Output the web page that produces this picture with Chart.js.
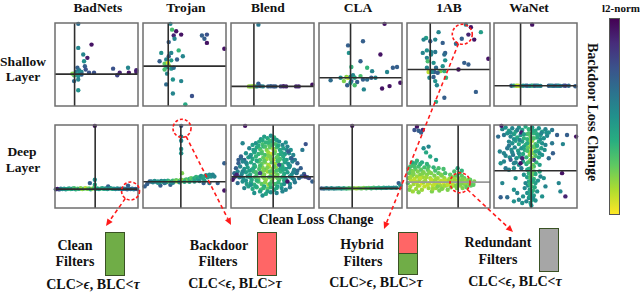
<!DOCTYPE html>
<html><head><meta charset="utf-8">
<script src="https://cdn.jsdelivr.net/npm/chart.js@4"></script>
<style>
body{margin:0;background:#fff}
#wrap{position:relative;width:640px;height:292px;overflow:hidden;font-family:"Liberation Serif","Times New Roman","DejaVu Serif",serif;font-weight:bold;color:#111}
.t{position:absolute;transform:translate(-50%,-50%);white-space:nowrap;line-height:1}
.s13{font-size:13.5px}.s14{font-size:14px}
canvas.p{position:absolute}
.box{position:absolute;box-sizing:border-box;border:1.5px solid #3a5224}
#cbar{position:absolute;left:609px;top:18px;width:11px;height:197px;box-sizing:border-box;border:1px solid #555;
background:linear-gradient(to bottom,#440154 0%,#472d7b 12.5%,#3b528b 25%,#2c728e 37.5%,#21918c 50%,#28ae80 62.5%,#5ec962 75%,#addc30 87.5%,#fde725 100%)}
#ov{position:absolute;left:0;top:0;pointer-events:none}
</style></head>
<body><div id="wrap">
<div class="t s13" style="left:98px;top:8px">BadNets</div>
<div class="t s13" style="left:186px;top:8px">Trojan</div>
<div class="t s13" style="left:268px;top:8px">Blend</div>
<div class="t s13" style="left:358px;top:8px">CLA</div>
<div class="t s13" style="left:449px;top:8px">1AB</div>
<div class="t s13" style="left:529px;top:8px">WaNet</div>
<div class="t" style="left:621px;top:8px;font-size:11px">l2-norm</div>
<div class="t s13" style="left:23px;top:62px">Shallow</div>
<div class="t s13" style="left:23px;top:77px">Layer</div>
<div class="t s13" style="left:22px;top:152px">Deep</div>
<div class="t s13" style="left:23px;top:168px">Layer</div>
<div class="t s14" style="left:316px;top:220px">Clean Loss Change</div>
<div class="t s14" style="left:592px;top:112px;transform:translate(-50%,-50%) rotate(90deg)">Backdoor Loss Change</div>
<div id="cbar"></div>

<div class="t s14" style="left:75px;top:246px">Clean</div>
<div class="t s14" style="left:75px;top:262px">Filters</div>
<div class="t s14" style="left:93px;top:285px">CLC&gt;<i>ϵ</i>, BLC&lt;<i>τ</i></div>
<div class="box" id="bClean" style="left:105px;top:232px;width:20px;height:44px;background:#70ad47"></div>

<div class="t s14" style="left:219px;top:246px">Backdoor</div>
<div class="t s14" style="left:218px;top:262px">Filters</div>
<div class="t s14" style="left:235px;top:284px">CLC&lt;<i>ϵ</i>, BLC&gt;<i>τ</i></div>
<div class="box" id="bBackdoor" style="left:257px;top:232px;width:20px;height:44px;background:#ff6666"></div>

<div class="t s14" style="left:362px;top:245px">Hybrid</div>
<div class="t s14" style="left:363px;top:262px">Filters</div>
<div class="t s14" style="left:376px;top:283px">CLC&gt;<i>ϵ</i>, BLC&gt;<i>τ</i></div>
<div class="box" id="bHybrid" style="left:398px;top:232px;width:20px;height:43px;background:#70ad47">
  <div style="position:absolute;left:0;top:0;right:0;height:20px;background:#ff6666;border-bottom:1.5px solid #3a5224"></div>
</div>

<div class="t s14" style="left:498px;top:243px">Redundant</div>
<div class="t s14" style="left:498px;top:260px">Filters</div>
<div class="t s14" style="left:515px;top:282px">CLC&lt;<i>ϵ</i>, BLC&lt;<i>τ</i></div>
<div class="box" id="bRedundant" style="left:539px;top:228px;width:20px;height:44px;background:#a6a6a6"></div>

<canvas id="ov" width="640" height="292"></canvas>
</div>
<script>
// ---- data: [clean loss change, backdoor loss change, l2-norm (0..1)] per filter ----
const methods = ['BadNets','Trojan','Blend','CLA','1AB','WaNet'];
const layers = ['Shallow','Deep'];

const badnetsShallow = [[28,99,.35],[28,70,.45],[44,74,.05],[34,62,.45],[39,58,.08],[35,54,.5],[36,48,.3],[27,46,.3],[37,44,.25],[29,43,.4],[32,41,.45],[25,41,.4],[41,40,.25],[47,40,.25],[26,38,.55],[23,37,.7],[21,39,.8],[30,40,.5],[32,38,.3],[28,36,.5],[23,30,.35],[28,32,.45],[28,19,.5],[70,45,.25],[78,40,.1],[75,37,.2],[88,46,.45],[89,40,.05],[98,43,.1],[98,41,.08]];
const trojanShallow = [[33,99,.45],[35,92,.7],[40,90,.05],[37,85,.1],[46,86,.05],[38,81,.45],[31,77,.3],[71,85,.3],[77,86,.25],[74,81,.3],[77,76,.05],[98,69,.05],[22,64,.5],[43,67,.65],[34,64,.45],[48,60,.45],[31,60,.3],[20,54,.3],[28,56,.45],[34,55,.55],[41,56,.3],[26,51,.75],[30,52,.95],[31,49,.85],[28,47,.5],[26,44,.7],[34,45,.5],[37,46,.35],[29,39,.45],[36,32,.5],[46,30,.45],[28,26,.35],[36,15,.45],[59,12,.25],[51,2,.6]];
const blendShallow = [[33,98,.4],[33,27,.3],[21.6,23.6,.85],[24,23.6,.8],[26.4,23.8,.85],[28.8,23.6,.92],[31.2,23.6,.45],[35.2,24,.3],[38.4,23.6,.45],[44.8,23.6,.3],[48,23.8,.3],[51.2,23.6,.25],[53.6,23.6,.3],[60,23.6,.2],[63.2,23.8,.1],[66.4,23.6,.1],[78.4,23.6,.1],[81.6,23.6,.1],[98,25.6,.05]];
const claShallow = [[79,99,.05],[35,73,.3],[53,78,.3],[36,64,.5],[74,62,.05],[50,54,.3],[39,47,.65],[58,46,.65],[64,42,.45],[82,41,.45],[89,46,.3],[94,47,.3],[98,28,.05],[14,31,.35],[26,34,.5],[33,35,.8],[35,34,.9],[38,35,.5],[41,37,.45],[43,34,.6],[50,36,.7],[53,32,.3],[58,32,.35],[63,34,.3],[68,34,.45],[39,30,.3],[46,29,.3],[34,25,.3],[43,25,.7],[38,28,.5],[54,20,.45],[76,21,.05],[85,24,.05],[30,30,.8]];
const abShallow = [[71,98,.45],[77,95,.05],[89,89,.55],[38,89,.45],[74,86,.1],[66,81,.3],[81,80,.05],[59,75,.35],[23,82,.55],[20,80,.45],[28,78,.3],[34,80,.45],[43,76,.3],[24,67,.5],[19,64,.45],[29,65,.45],[34,65,.4],[46,64,.3],[45,62,.35],[29,62,.45],[24,58,.45],[46,55,.5],[25,54,.7],[32,52,.5],[69,52,.3],[74,50,.3],[98,57,.05],[24,46,.45],[35,46,.35],[43,48,.5],[40,42,.8],[45,42,.65],[33,41,.3],[62,44,.05],[26,41,.9],[30,41,.45],[37,40,.3],[27,34,.45],[32,35,.3],[47,34,.65],[34,30,.5],[36,25,.45],[83,17,.3],[45,10,.3],[35,5,.6]];
const wanetShallow = [[46,98,.05],[21,24.4,.3],[24,24.6,.6],[27,24.4,.85],[29,24.4,.92],[32,24.2,.85],[35,24.4,.5],[38,24.6,.4],[40,24.4,.3],[43,24.2,.5],[45,24.6,.45],[47,24.4,.65],[49,24.4,.3],[51,24.6,.35],[53,24.4,.45],[56,24.2,.45],[66,24.4,.3],[68,24.6,.35],[70,24.4,.45],[72,24.2,.4],[74,24.6,.3],[76,24.4,.35],[78,24.4,.5],[80,24.2,.4],[84,24.6,.3],[86,24.4,.2],[90,24.4,.35],[98,23.8,.3]];

const badnetsDeep = [[48,99,.05],[48,34,.5],[42,30,.3],[48,28,.6],[88,27,.3],[64,26,.3],
[1,22.6,.3],[3,23,.05],[5,22.4,.2],[7,23.2,.4],[9,22.8,.45],[11,23.4,.55],[13,22.6,.5],[15,23,.6],[17,23.6,.55],[19,22.8,.65],[21,23.2,.5],[23,23.8,.7],[25,22.6,.6],[27,23.4,.75],[29,23,.55],[31,23.8,.8],[33,22.8,.85],[35,23.4,.7],[37,24,.9],[39,23,.8],[41,23.6,.75],[43,22.6,.6],[45,23.4,.85],[47,24,.7],[49,23,.55],[51,23.6,.6],[53,22.8,.5],[55,23.4,.65],[57,24,.55],[59,23,.6],[61,23.6,.5],[63,22.8,.55],[65,23.4,.45],[67,24,.5],[69,23,.6],[71,23.4,.5],[73,22.8,.45],[75,23.6,.5],[77,23,.4],[79,23.4,.45],[81,22.8,.4],[83,23.2,.35],[85,23,.45],[87,22.6,.3],[89,23.2,.35],[91,22.8,.4],[93,23.2,.3],[95,22.6,.45],[97,23,.3],[99,22.8,.25]];
const trojanDeep = [[46,99,.25],[46,86,.45],[46,81,.45],[46,71,.5],[46,66,.5],[47,42,.8],
[98,54,.3],[98,21,.05],[2,26,.3],[5,29,.3],[8,32,.3],[21,27,.3],[33,28,.3],[73,30,.3],[80,30,.4],[90,30,.3],
[10,32,.4],[12,31,.45],[14,32.5,.5],[16,31.5,.4],[18,32,.55],[20,31,.5],[22,32.5,.45],[24,31.5,.6],[26,32.5,.5],[28,31,.55],[30,33,.6],[32,32,.7],[34,31,.5],[36,33,.65],[38,32,.8],[40,33.5,.75],[42,32,.85],[44,33,.7],[46,34,.8],[48,32.5,.9],[50,33.5,.75],[52,34.5,.7],[54,33,.8],[56,35,.65],[58,36,.75],[60,34.5,.7],[62,36,.6],[64,37.5,.65],[66,35,.55],[68,37,.6],[70,38.5,.5],[72,36,.55],[74,38,.6],[76,39.5,.5],[78,37,.55],[80,40,.5],[82,38,.5],[84,40,.45],[86,38,.45],[56,31.5,.6],[62,32,.55],[68,32.5,.5],[74,33,.55],[44,31,.5],[50,31.5,.6],[36,30.5,.45],[26,30,.4],[18,30.5,.5]];
const blendDeep = [[40,86,.55],[44,84,.6],[48,87,.5],[52,85,.65],[36,83,.5],[47,81,.7],[55,82,.55],
[30,78,.5],[34,80,.6],[38,77,.7],[42,79,.65],[46,76,.75],[50,79,.6],[54,77,.7],[58,80,.5],[62,76,.45],[26,76,.55],[66,79,.5],
[22,72,.45],[27,70,.55],[31,73,.6],[35,71,.7],[39,74,.65],[43,70,.8],[47,73,.75],[51,71,.9],[55,73,.7],[59,70,.6],[63,72,.55],[68,74,.45],[72,70,.5],
[18,66,.5],[24,64,.55],[28,67,.6],[33,65,.65],[37,68,.75],[41,64,.7],[45,67,.85],[49,65,.95],[53,68,.8],[57,64,.7],[61,67,.6],[65,65,.55],[70,66,.5],[75,64,.45],
[12,60,.45],[16,58,.3],[21,61,.55],[26,59,.6],[30,62,.65],[35,58,.7],[39,61,.75],[43,59,.85],[47,62,.8],[51,58,.9],[55,61,.75],[59,59,.7],[63,62,.6],[67,58,.55],[72,60,.5],[77,58,.4],
[9,54,.3],[14,56,.45],[19,53,.5],[24,55,.6],[28,52,.55],[33,56,.7],[37,53,.75],[41,55,.8],[45,52,.85],[49,55,.75],[53,53,.85],[57,56,.7],[61,52,.65],[65,55,.55],[69,53,.5],[74,56,.45],[80,54,.3],
[6,48,.3],[11,50,.45],[16,47,.5],[20,49,.55],[25,46,.6],[29,50,.65],[34,47,.7],[38,49,.8],[42,46,.75],[46,50,.9],[50,47,.8],[54,49,.85],[58,46,.7],[62,50,.6],[66,47,.55],[70,49,.5],[76,46,.45],[84,48,.3],
[4,42,.35],[8,44,.45],[13,41,.5],[18,43,.55],[23,40,.6],[27,44,.65],[31,41,.7],[36,43,.75],[40,40,.8],[44,44,.85],[48,41,.9],[52,43,.8],[56,40,.75],[60,44,.65],[64,41,.6],[68,43,.55],[73,40,.5],[79,42,.4],[88,41,.3],
[3,36,.3],[10,37,.45],[15,35,.5],[20,38,.55],[25,34,.6],[29,37,.7],[33,35,.75],[38,38,.8],[42,34,.85],[46,37,.75],[50,35,.9],[54,38,.8],[58,34,.7],[62,37,.65],[66,35,.55],[71,38,.5],[76,34,.45],[82,36,.35],[92,37,.3],
[8,30,.35],[14,32,.5],[19,29,.55],[24,31,.6],[28,28,.65],[33,32,.7],[37,29,.75],[41,31,.8],[45,28,.85],[49,32,.75],[53,29,.7],[57,31,.65],[61,28,.6],[66,32,.55],[71,29,.5],[77,31,.4],
[16,24,.45],[21,26,.55],[26,23,.6],[31,25,.65],[36,22,.7],[40,26,.6],[44,23,.75],[48,25,.65],[52,22,.6],[56,26,.55],[61,24,.5],[66,22,.45],[71,25,.4],
[28,18,.5],[35,20,.55],[42,17,.6],[48,19,.5],[55,18,.45],[62,20,.45],[38,15,.5],
[38,82,.6],[45,79,.65],[51,83,.55],[33,75,.6],[41,74,.7],[49,76,.7],[57,75,.6],[29,69,.55],[37,66,.7],[45,63,.8],[52,66,.75],[60,65,.6],[67,70,.5],[23,62,.5],[31,57,.6],[40,57,.75],[48,59,.8],[56,57,.7],[64,58,.6],[18,55,.45],[27,48,.6],[35,51,.7],[44,49,.8],[52,50,.75],[60,48,.6],[71,51,.5],[14,44,.45],[22,45,.55],[30,43,.7],[39,45,.8],[47,44,.75],[55,45,.7],[63,46,.6],[75,43,.45],[12,38,.4],[23,37,.55],[31,33,.65],[40,36,.8],[48,38,.7],[56,36,.75],[64,33,.6],[74,36,.45],[18,33,.5],[30,26,.6],[39,24,.65],[47,29,.7],[55,24,.6],[64,29,.5],[44,20,.55],[24,28,.5],
[17,99,.05],[90,77,.25],[69,68,.3],[2,34,.05],[98,32,.3],[89,38,.1],[68,32,.05],[7,40,.1],[9,58,.3],[14,78,.45],[12,62,.3],[86,70,.4],[80,45,.35],[85,38,.3],[94,36,.2],[5,38,.1],[58,52,.25],[35,42,.2],[73,60,.3]];
const claDeep = [[40,99,.05],[96,30,.3],[98,27,.5],
[3,23.6,.3],[6,23.4,.35],[9,23.8,.45],[12,23.4,.4],[15,23.8,.5],[18,23.4,.45],[21,23.6,.5],[24,23.8,.55],[27,23.4,.5],[30,23.8,.6],[33,23.4,.65],[36,23.8,.7],[39,23.6,.75],[42,24,.8],[45,23.6,.85],[48,24,.8],[51,23.6,.75],[54,24.2,.8],[57,23.8,.7],[60,24.2,.75],[63,23.8,.65],[66,24.4,.7],[69,24,.6],[72,24.4,.65],[75,24,.55],[78,24.4,.6],[81,24.2,.5],[84,24.6,.55],[87,24.2,.5],[90,24.6,.45],[93,24.4,.5]];
const abDeep = [[12,98,.05],[9,94,.25],[14,93,.3],[19,94,.1],[17,91,.3],[26,74,.45],[23,67,.6],[20,72,.5],[28,62,.6],[35,58,.55],
[1,30,.7],[2,36,.8],[3,42,.75],[2,48,.7],[4,26,.85],[5,33,.9],[6,39,.8],[5,45,.75],[7,51,.7],[8,29,.85],[9,35,.9],[8,41,.8],[10,47,.75],[10,54,.65],[11,23,.85],[12,31,.9],[12,38,.85],[13,44,.8],[14,50,.7],[15,27,.9],[15,34,.85],[16,40,.8],[17,46,.75],[18,22,.85],[18,30,.95],[19,37,.85],[20,43,.8],[21,49,.7],[21,26,.9],[22,33,.85],[3,22,.8],[7,20,.85],[14,19,.8],[6,55,.6],[12,57,.65],[18,55,.6],
[24,40,.8],[25,46,.75],[26,24,.85],[27,30,.9],[28,36,.85],[29,42,.8],[30,20,.8],[31,27,.9],[32,33,.85],[33,39,.8],[34,45,.7],[35,24,.85],[36,30,.9],[37,36,.85],[38,42,.75],[39,21,.8],[40,27,.85],[41,33,.9],[42,39,.8],[43,24,.85],[44,30,.95],[45,36,.85],[46,42,.7],[47,27,.8],[48,33,.85],[49,22,.8],[26,50,.7],[32,49,.65],[38,48,.7],[44,47,.7],
[50,29,.9],[51,35,.85],[52,40,.75],[53,25,.8],[54,31,.85],[55,37,.8],[57,27,.85],[58,33,.9],[59,39,.75],[60,24,.8],[61,30,.85],[62,36,.8],[63,42,.7],[64,27,.85],[65,33,.8],[66,39,.75],[67,24,.8],[68,30,.85],[69,36,.75],[70,28,.8],[71,33,.85],[72,25,.75],[73,31,.8],[75,28,.8],[76,34,.75],[78,30,.8],[80,28,.75],[81,32,.8],[61,48,.6],[68,34,.85],[57,44,.7],[66,45,.65],
[4,37,.85],[7,44,.8],[10,32,.9],[13,27,.85],[16,36,.9],[19,42,.8],[20,31,.85],[23,37,.85],[25,28,.9],[27,43,.8],[29,34,.9],[31,23,.85],[33,29,.9],[35,35,.85],[37,26,.8],[39,31,.9],[41,40,.8],[42,23,.8],[45,27,.85],[46,33,.9],[49,28,.9],[52,33,.85],[55,29,.9],[57,35,.85],[59,27,.8],[62,31,.85],[65,29,.8],[67,35,.8],[70,31,.85],[74,34,.8],[77,27,.75],[9,50,.7],[16,53,.65],[4,50,.7],[24,53,.65]];
const wanetDeep = [[10,95,.45],[14,97,.5],[18,93,.55],[22,96,.45],[26,92,.6],[30,97,.5],[34,94,.55],[38,98,.6],[42,95,.65],[46,97,.55],[50,93,.6],[54,96,.5],[58,92,.55],[62,95,.45],[66,91,.5],[70,94,.4],[12,88,.4],[16,90,.5],[20,86,.45],[24,89,.55],[28,85,.6],[32,88,.5],[36,84,.65],[40,89,.7],[44,86,.75],[48,90,.65],[52,85,.6],[56,88,.55],[60,84,.5],[64,87,.45],[9,99,.05],[5,86,.35],[33,91,.1],
[18,80,.45],[22,78,.5],[26,81,.55],[30,77,.6],[34,80,.55],[38,76,.65],[42,79,.8],[46,81,.85],[50,77,.7],[54,80,.6],[58,78,.5],[62,76,.45],[16,72,.4],[21,70,.5],[25,73,.45],[29,69,.55],[33,72,.5],[37,70,.6],[41,73,.75],[45,70,.9],[49,73,.8],[53,69,.65],[57,72,.55],[61,70,.5],[14,63,.45],[19,61,.5],[23,64,.4],[27,60,.5],[31,62,.55],[35,65,.6],[39,61,.65],[43,64,.8],[46,60,.85],[50,63,.7],[54,61,.6],[58,64,.5],[26,55,.45],[30,52,.5],[35,56,.55],[39,53,.6],[43,56,.75],[47,52,.8],[51,55,.65],[55,52,.55],[48,58,.2],[34,60,.1],
[40,46,.6],[44,47,.85],[48,44,.7],[42,42,.65],[46,40,.8],[50,41,.6],[40,37,.55],[44,36,.75],[48,35,.65],[42,32,.6],[46,31,.7],[50,30,.55],[41,27,.5],[45,26,.7],[49,25,.6],[43,22,.55],[47,21,.65],[40,18,.5],[44,17,.6],[48,15,.55],[42,12,.5],[46,10,.6],[44,6,.55],[39,8,.45],[50,9,.5],[37,24,.45],[52,20,.5],[35,14,.5],[53,33,.5],[36,40,.5],[55,44,.6],[38,30,.45],
[42,90,.7],[47,93,.6],[36,89,.55],[52,89,.6],[44,82,.8],[48,84,.7],[40,83,.65],[44,76,.85],[48,74,.75],[40,78,.6],[43,67,.85],[47,66,.8],[40,69,.7],[50,68,.6],[44,58,.8],[41,55,.7],[48,50,.7],[45,49,.8],[42,47,.6],[46,43,.75],[44,38,.7],[47,33,.6],[43,29,.65],[45,19,.6],[43,14,.55],[47,12,.5],[45,3,.5],[28,94,.45],[20,91,.5],[57,90,.45],[63,91,.5],[24,83,.5],[31,82,.45],[56,83,.5],[36,74,.55],[52,75,.6],[30,66,.5],[55,66,.5],[22,67,.45],[18,75,.4],[33,48,.4],[56,38,.45],
[7,68,.45],[12,66,.45],[8,54,.5],[12,56,.45],[20,58,.3],[24,54,.45],[32,54,.05],[10,30,.45],[8,13,.3],[16,13,.35],[24,22,.5],[28,18,.45],[24,8,.5],[30,10,.45],[34,6,.5],[76,88,.3],[88,88,.3],[83,77,.45],[99,86,.05],[82,42,.05],[78,30,.45],[80,20,.45],[86,14,.1],[71,66,.3],[66,60,.35],[70,78,.4],[18,46,.45],[14,48,.4],[24,48,.5],[26,36,.5],[60,36,.5],[62,26,.45],[58,14,.5]];

// where clean / backdoor loss change equals zero in each panel (same order as panelData)
const cleanZero    = [23.6, 30.4, 27.6, 38, 28, 32,   48.4, 45.6, 50.8, 40, 61.6, 44.8];
const backdoorZero = [38.4, 48, 23.6, 34, 44, 24.4,   22.8, 31.6, 37.6, 23.6, 31.2, 44.8];
const panelData = [badnetsShallow, trojanShallow, blendShallow, claShallow, abShallow, wanetShallow,
                   badnetsDeep, trojanDeep, blendDeep, claDeep, abDeep, wanetDeep];

// ---- layout ----
const colLeft = [51, 139, 227, 315, 403, 490];
const rowTop = [19, 121];
const PAD = 4, AREA = 83;

const VIR = [[68,1,84],[71,45,123],[59,82,139],[44,114,142],[33,145,140],[40,174,128],[94,201,98],[173,220,48],[253,231,37]];
function viridis(t){
  t = Math.max(0, Math.min(1, t)) * (VIR.length - 1);
  const i = Math.min(VIR.length - 2, Math.floor(t)), f = t - i;
  const a = VIR[i], b = VIR[i+1];
  return 'rgb(' + [0,1,2].map(k => Math.round(a[k] + (b[k]-a[k]) * f)).join(',') + ')';
}

const framePlugin = {
  id: 'frame',
  afterDatasetsDraw(chart) {
    const {ctx, chartArea: ca, scales} = chart;
    const o = chart.options.plugins.frame;
    ctx.save();
    const x0 = scales.x.getPixelForValue(o.zx), y0 = scales.y.getPixelForValue(o.zy);
    ctx.lineWidth = 1.6;
    ctx.strokeStyle = o.hColor;
    ctx.beginPath(); ctx.moveTo(ca.left, y0); ctx.lineTo(ca.right, y0); ctx.stroke();
    ctx.strokeStyle = '#2e2e2e';
    ctx.beginPath(); ctx.moveTo(x0, ca.top); ctx.lineTo(x0, ca.bottom); ctx.stroke();
    ctx.lineWidth = 1.5;
    ctx.strokeStyle = '#6e6e6e';
    ctx.strokeRect(ca.left, ca.top, ca.right - ca.left, ca.bottom - ca.top);
    ctx.restore();
  }
};

const wrap = document.getElementById('wrap');
const charts = [];
panelData.forEach((pts, i) => {
  const col = i % 6, row = Math.floor(i / 6);
  const cv = document.createElement('canvas');
  cv.className = 'p';
  cv.width = AREA + 2*PAD; cv.height = AREA + 2*PAD;
  cv.style.left = colLeft[col] + 'px'; cv.style.top = rowTop[row] + 'px';
  wrap.insertBefore(cv, document.getElementById('ov'));
  charts.push(new Chart(cv, {
    type: 'scatter',
    data: { datasets: [{
      data: pts.map(p => ({x: p[0], y: p[1]})),
      pointBackgroundColor: pts.map(p => viridis(p[2])),
      pointBorderWidth: 0, pointRadius: 2.2, clip: false
    }]},
    options: {
      responsive: false, animation: false, events: [],
      layout: { padding: PAD },
      plugins: { legend: {display: false}, tooltip: {enabled: false},
        frame: { zx: cleanZero[i], zy: backdoorZero[i], hColor: i === 10 ? '#9a9a9a' : '#2e2e2e' } },
      scales: {
        x: { type: 'linear', min: 0, max: 100, display: false },
        y: { type: 'linear', min: 0, max: 100, display: false }
      }
    },
    plugins: [framePlugin]
  }));
});

// ---- annotations: dashed circles on panels with arrows to filter types ----
const annotations = [
  {panel: 6,  x: 91,   y: 20.5, r: 9,  box: 'bClean',     dx: 1,   dy: -6},
  {panel: 7,  x: 47,   y: 96,   r: 9,  box: 'bBackdoor',  dx: -26, dy: -7},
  {panel: 4,  x: 66.6, y: 86.4, r: 10, box: 'bHybrid',    dx: -14, dy: -3},
  {panel: 10, x: 63.9, y: 30.5, r: 10, box: 'bRedundant', dx: -26, dy: 4}
];
const ov = document.getElementById('ov').getContext('2d');
ov.strokeStyle = '#ff1a1a'; ov.fillStyle = '#ff1a1a'; ov.lineWidth = 1.6;
annotations.forEach(a => {
  const ch = charts[a.panel];
  const cx = colLeft[a.panel % 6] + ch.scales.x.getPixelForValue(a.x);
  const cy = rowTop[Math.floor(a.panel / 6)] + ch.scales.y.getPixelForValue(a.y);
  const b = document.getElementById(a.box);
  const tx = b.offsetLeft + a.dx, ty = b.offsetTop + a.dy;
  ov.setLineDash([3, 2]);
  ov.beginPath(); ov.arc(cx, cy, a.r, 0, Math.PI * 2); ov.stroke();
  const ang = Math.atan2(ty - cy, tx - cx);
  const sx = cx + a.r * Math.cos(ang), sy = cy + a.r * Math.sin(ang);
  const hl = 7;
  const ex = tx - hl * Math.cos(ang), ey = ty - hl * Math.sin(ang);
  ov.setLineDash([4, 3]);
  ov.beginPath(); ov.moveTo(sx, sy); ov.lineTo(ex, ey); ov.stroke();
  ov.setLineDash([]);
  ov.beginPath();
  ov.moveTo(tx, ty);
  ov.lineTo(ex + 3.2 * Math.sin(ang), ey - 3.2 * Math.cos(ang));
  ov.lineTo(ex - 3.2 * Math.sin(ang), ey + 3.2 * Math.cos(ang));
  ov.closePath(); ov.fill();
});
</script>
</body></html>
